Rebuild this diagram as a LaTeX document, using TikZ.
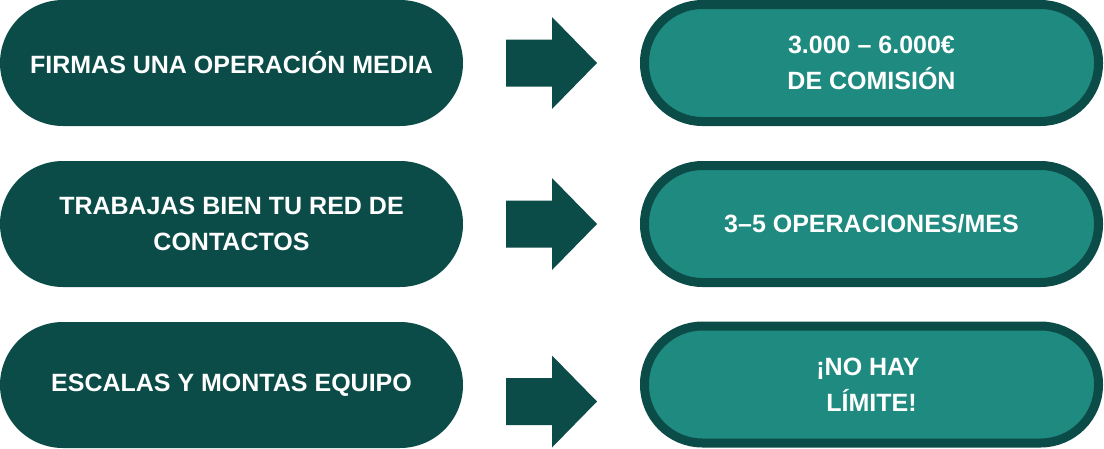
\documentclass[tikz,border=0pt]{standalone}
\usepackage{fontspec}
\setmainfont{Liberation Sans}
\definecolor{darkgreen}{RGB}{11,76,72}
\definecolor{tealfill}{RGB}{31,138,128}
\begin{document}
\begin{tikzpicture}[x=1pt,y=-1pt,
  lbl/.style={text=white,font=\bfseries\fontsize{25}{36}\selectfont,align=center},
  leftpill/.style={lbl,fill=darkgreen,rounded corners=63pt,minimum width=463pt,minimum height=126pt,inner sep=0pt},
  rightpill/.style={lbl,fill=tealfill,draw=darkgreen,line width=9pt,rounded corners=58pt,minimum width=454pt,minimum height=117pt,inner sep=0pt},
  blockarrow/.style={fill=darkgreen}]
\useasboundingbox (0,0) rectangle (1104,448);
% left pills
\node[leftpill] (l1) at (231.5,63) {FIRMAS UNA OPERACIÓN MEDIA};
\node[leftpill] (l2) at (231.5,224) {TRABAJAS BIEN TU RED DE\\CONTACTOS};
\node[leftpill] (l3) at (231.5,385) {ESCALAS Y MONTAS EQUIPO};
% right pills
\node[rightpill] (r1) at (871.5,63) {3.000 – 6.000€\\DE COMISIÓN};
\node[rightpill] (r2) at (871.5,224) {3–5 OPERACIONES/MES};
\node[rightpill] (r3) at (871.5,384.5) {¡NO HAY\kern7pt\\LÍMITE!};
% block arrows
\foreach \n/\y in {a1/63, a2/224, a3/401.5}{
  \coordinate (\n) at (506,\y);
  \fill[blockarrow] (\n) ++(0,-23.5) -- ++(46,0) -- ++(0,-22.5) -- ++(45,46) -- ++(-45,46) -- ++(0,-22.5) -- ++(-46,0) -- cycle;
}
\end{tikzpicture}
\end{document}
